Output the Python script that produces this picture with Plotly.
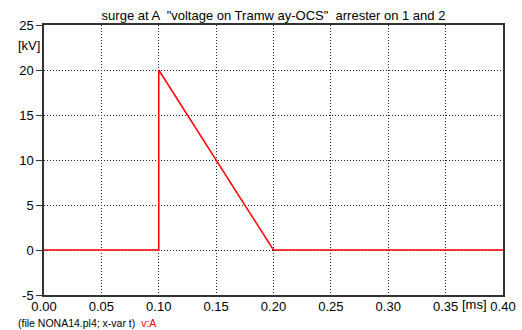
import plotly.graph_objects as go

t_ms = [0.0, 0.1, 0.1, 0.2, 0.4]
v_kv = [0.0, 0.0, 20.0, 0.0, 0.0]
x_ticks = [0.0, 0.05, 0.10, 0.15, 0.20, 0.25, 0.30, 0.35, 0.40]
x_labels = ["0.00", "0.05", "0.10", "0.15", "0.20", "0.25", "0.30", "0.35", "0.40"]
y_ticks = [-5, 0, 5, 10, 15, 20, 25]
y_labels = ["-5", "0", "5", "10", "15", "20", "25"]

FONT = "Liberation Sans, Arial, sans-serif"

fig = go.Figure()
fig.add_trace(go.Scatter(x=t_ms, y=v_kv, mode="lines",
                         line=dict(color="#ff0000", width=1.5), showlegend=False))

fig.update_layout(
    width=522, height=330,
    margin=dict(l=44, r=19, t=25, b=35, autoexpand=False),
    paper_bgcolor="white", plot_bgcolor="white",
    font=dict(family=FONT, size=13, color="black"),
    title=dict(text='surge at A  "voltage on Tramw ay-OCS"  arrester on 1 and 2',
               x=273.5 / 522, xanchor="center", y=1 - 15 / 330, yanchor="middle",
               font=dict(size=13, family=FONT, color="black")),
    xaxis=dict(range=[0, 0.4], tickvals=x_ticks, ticktext=x_labels,
               showgrid=True, gridcolor="#222222", griddash="1px,2px", gridwidth=1,
               showline=True, linecolor="#333333", linewidth=1.5, mirror=True,
               ticks="", zeroline=False, ticklabelstandoff=-1),
    yaxis=dict(range=[-5, 25], tickvals=y_ticks, ticktext=y_labels,
               showgrid=True, gridcolor="#222222", griddash="1px,2px", gridwidth=1,
               showline=True, linecolor="#333333", linewidth=1.5, mirror=True,
               ticks="outside", ticklen=6, tickcolor="#333333", zeroline=False),
    annotations=[
        dict(text="[kV]", xref="paper", yref="paper", x=-0.004, y=(295 - 45) / 270,
             xanchor="right", yanchor="middle", showarrow=False, font=dict(size=13)),
        dict(text="[ms]", xref="paper", yref="paper", x=(474 - 44) / 459, y=-(304 - 295) / 270,
             xanchor="center", yanchor="middle", showarrow=False, font=dict(size=13)),
        dict(text='(file NONA14.pl4; x-var t)  <span style="color:#ff0000">v:A</span>',
             xref="paper", yref="paper", x=(16 - 44) / 459, y=-(323 - 295) / 270,
             xanchor="left", yanchor="middle", showarrow=False, font=dict(size=10.5)),
    ],
)

fig.write_html("out.html")
